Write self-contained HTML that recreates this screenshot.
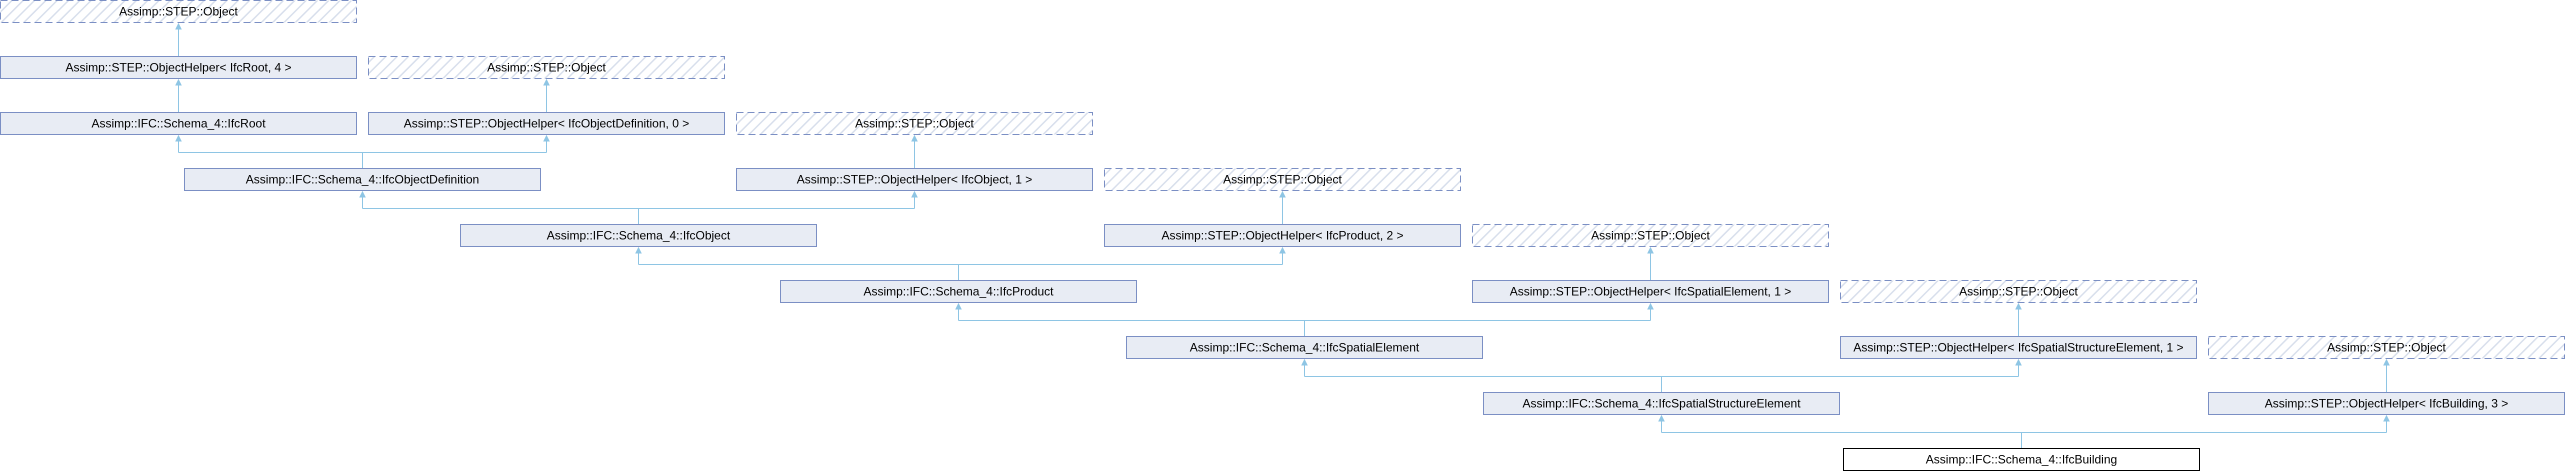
<!DOCTYPE html>
<html><head><meta charset="utf-8"><style>
html,body{margin:0;padding:0;background:#fff;}
svg{display:block;}
text{font-family:"Liberation Sans",sans-serif;font-size:12px;fill:#000;text-anchor:middle;}
.b{fill:#e8ecf4;stroke:#7b8fc4;stroke-width:1;}
.d{fill:url(#h);stroke:#7b8fc4;stroke-width:1;stroke-dasharray:7,4;}
.w{fill:#fff;stroke:#000;stroke-width:1;}
.l{stroke:#8ec5e4;stroke-width:1;fill:none;}
.a{fill:#8ec5e4;stroke:#8ec5e4;stroke-width:1;}
</style></head><body>
<svg width="2566" height="472" viewBox="0 0 2566 472" xmlns="http://www.w3.org/2000/svg">
<defs>
<pattern id="h" patternUnits="userSpaceOnUse" width="8" height="8" patternTransform="rotate(45)">
<rect width="8" height="8" fill="#fff"/>
<line x1="0" y1="0" x2="0" y2="8" stroke="#d8dfec" stroke-width="3"/>
</pattern>
</defs>

<!-- boxes -->
<rect class="d" x="0.5" y="0.5" width="356" height="22"/><text x="178.5" y="15.5">Assimp::STEP::Object</text>

<rect class="b" x="0.5" y="56.5" width="356" height="22"/><text x="178.5" y="71.5">Assimp::STEP::ObjectHelper&lt; IfcRoot, 4 &gt;</text>
<rect class="d" x="368.5" y="56.5" width="356" height="22"/><text x="546.5" y="71.5">Assimp::STEP::Object</text>

<rect class="b" x="0.5" y="112.5" width="356" height="22"/><text x="178.5" y="127.5">Assimp::IFC::Schema_4::IfcRoot</text>
<rect class="b" x="368.5" y="112.5" width="356" height="22"/><text x="546.5" y="127.5">Assimp::STEP::ObjectHelper&lt; IfcObjectDefinition, 0 &gt;</text>
<rect class="d" x="736.5" y="112.5" width="356" height="22"/><text x="914.5" y="127.5">Assimp::STEP::Object</text>

<rect class="b" x="184.5" y="168.5" width="356" height="22"/><text x="362.5" y="183.5">Assimp::IFC::Schema_4::IfcObjectDefinition</text>
<rect class="b" x="736.5" y="168.5" width="356" height="22"/><text x="914.5" y="183.5">Assimp::STEP::ObjectHelper&lt; IfcObject, 1 &gt;</text>
<rect class="d" x="1104.5" y="168.5" width="356" height="22"/><text x="1282.5" y="183.5">Assimp::STEP::Object</text>

<rect class="b" x="460.5" y="224.5" width="356" height="22"/><text x="638.5" y="239.5">Assimp::IFC::Schema_4::IfcObject</text>
<rect class="b" x="1104.5" y="224.5" width="356" height="22"/><text x="1282.5" y="239.5">Assimp::STEP::ObjectHelper&lt; IfcProduct, 2 &gt;</text>
<rect class="d" x="1472.5" y="224.5" width="356" height="22"/><text x="1650.5" y="239.5">Assimp::STEP::Object</text>

<rect class="b" x="780.5" y="280.5" width="356" height="22"/><text x="958.5" y="295.5">Assimp::IFC::Schema_4::IfcProduct</text>
<rect class="b" x="1472.5" y="280.5" width="356" height="22"/><text x="1650.5" y="295.5">Assimp::STEP::ObjectHelper&lt; IfcSpatialElement, 1 &gt;</text>
<rect class="d" x="1840.5" y="280.5" width="356" height="22"/><text x="2018.5" y="295.5">Assimp::STEP::Object</text>

<rect class="b" x="1126.5" y="336.5" width="356" height="22"/><text x="1304.5" y="351.5">Assimp::IFC::Schema_4::IfcSpatialElement</text>
<rect class="b" x="1840.5" y="336.5" width="356" height="22"/><text x="2018.5" y="351.5">Assimp::STEP::ObjectHelper&lt; IfcSpatialStructureElement, 1 &gt;</text>
<rect class="d" x="2208.5" y="336.5" width="356" height="22"/><text x="2386.5" y="351.5">Assimp::STEP::Object</text>

<rect class="b" x="1483.5" y="392.5" width="356" height="22"/><text x="1661.5" y="407.5">Assimp::IFC::Schema_4::IfcSpatialStructureElement</text>
<rect class="b" x="2208.5" y="392.5" width="356" height="22"/><text x="2386.5" y="407.5">Assimp::STEP::ObjectHelper&lt; IfcBuilding, 3 &gt;</text>

<rect class="w" x="1843.5" y="448.5" width="356" height="22"/><text x="2021.5" y="463.5">Assimp::IFC::Schema_4::IfcBuilding</text>

<!-- single connectors -->
<path class="l" d="M178.5,56 V24 M546.5,112 V80 M178.5,112 V80 M914.5,168 V136 M1282.5,224 V192 M1650.5,280 V248 M2018.5,336 V304 M2386.5,392 V360"/>
<!-- multi connectors -->
<path class="l" d="M362.5,168 V152.5 M178.5,152.5 H546.5 M178.5,152.5 V136 M546.5,152.5 V136"/>
<path class="l" d="M638.5,224 V208.5 M362.5,208.5 H914.5 M362.5,208.5 V192 M914.5,208.5 V192"/>
<path class="l" d="M958.5,280 V264.5 M638.5,264.5 H1282.5 M638.5,264.5 V248 M1282.5,264.5 V248"/>
<path class="l" d="M1304.5,336 V320.5 M958.5,320.5 H1650.5 M958.5,320.5 V304 M1650.5,320.5 V304"/>
<path class="l" d="M1661.5,392 V376.5 M1304.5,376.5 H2018.5 M1304.5,376.5 V360 M2018.5,376.5 V360"/>
<path class="l" d="M2021.5,448 V432.5 M1661.5,432.5 H2386.5 M1661.5,432.5 V416 M2386.5,432.5 V416"/>

<!-- arrowheads -->
<g class="a">
<polygon points="176,29 178.5,24 181,29"/>
<polygon points="176,85 178.5,80 181,85"/>
<polygon points="544,85 546.5,80 549,85"/>
<polygon points="176,141 178.5,136 181,141"/>
<polygon points="544,141 546.5,136 549,141"/>
<polygon points="912,141 914.5,136 917,141"/>
<polygon points="360,197 362.5,192 365,197"/>
<polygon points="912,197 914.5,192 917,197"/>
<polygon points="1280,197 1282.5,192 1285,197"/>
<polygon points="636,253 638.5,248 641,253"/>
<polygon points="1280,253 1282.5,248 1285,253"/>
<polygon points="1648,253 1650.5,248 1653,253"/>
<polygon points="956,309 958.5,304 961,309"/>
<polygon points="1648,309 1650.5,304 1653,309"/>
<polygon points="2016,309 2018.5,304 2021,309"/>
<polygon points="1302,365 1304.5,360 1307,365"/>
<polygon points="2016,365 2018.5,360 2021,365"/>
<polygon points="2384,365 2386.5,360 2389,365"/>
<polygon points="1659,421 1661.5,416 1664,421"/>
<polygon points="2384,421 2386.5,416 2389,421"/>
</g>
</svg>
</body></html>
